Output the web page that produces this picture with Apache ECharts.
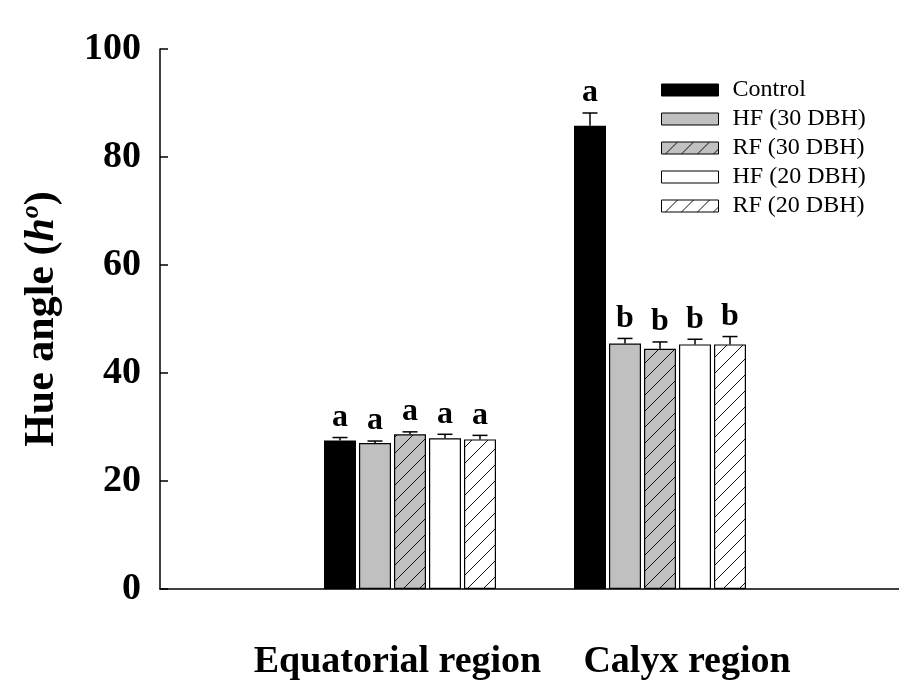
<!DOCTYPE html>
<html><head><meta charset="utf-8">
<script src="https://cdn.jsdelivr.net/npm/echarts@6/dist/echarts.min.js"></script>
<style>html,body{margin:0;padding:0;background:#fff}#c{width:899px;height:681px}</style>
</head><body><div id="c"></div>
<script>
// ---- data ----
const categories = ['Equatorial region', 'Calyx region'];
const categoryPos = [1, 2];
const seriesNames = ['Control', 'HF (30 DBH)', 'RF (30 DBH)', 'HF (20 DBH)', 'RF (20 DBH)'];
const control = [27.5, 85.8];
const hf30 = [27.05, 45.45];
const rf30 = [28.65, 44.5];
const hf20 = [27.9, 45.3];
const rf20 = [27.7, 45.3];
const controlErr = [0.55, 2.35];
const hf30Err = [0.35, 0.95];
const rf30Err = [0.45, 1.25];
const hf20Err = [0.75, 0.95];
const rf20Err = [0.75, 1.45];
const controlLetters = ['a', 'a'];
const hf30Letters = ['a', 'b'];
const rf30Letters = ['a', 'b'];
const hf20Letters = ['a', 'b'];
const rf20Letters = ['a', 'b'];
const yMin = 0, yMax = 100, yStep = 20;

const means = [control, hf30, rf30, hf20, rf20];
const errs = [controlErr, hf30Err, rf30Err, hf20Err, rf20Err];
const letters = [controlLetters, hf30Letters, rf30Letters, hf20Letters, rf20Letters];

// ---- styles ----
const SERIF = '"Liberation Serif", "Times New Roman", serif';
const BAR_W = 32, BAR_GAP = 3, CAP = 7.5;
const GRAY = '#c0c0c0';

function hatch(bg) {
  const s = 16;
  const cv = document.createElement('canvas');
  cv.width = s; cv.height = s;
  const ctx = cv.getContext('2d');
  ctx.fillStyle = bg; ctx.fillRect(0, 0, s, s);
  ctx.strokeStyle = '#111'; ctx.lineWidth = 1;
  ctx.beginPath();
  ctx.moveTo(-2, s + 2); ctx.lineTo(s + 2, -2);
  ctx.moveTo(s - 2, s + 2); ctx.lineTo(s + 2, s - 2);
  ctx.moveTo(-2, 2); ctx.lineTo(2, -2);
  ctx.stroke();
  return { image: cv, repeat: 'repeat' };
}
const fills = ['#000', GRAY, hatch(GRAY), '#fff', hatch('#fff')];

const barSeries = seriesNames.map((name, k) => ({
  type: 'bar', name,
  data: categoryPos.map((x, i) => [x, means[k][i]]),
  barWidth: BAR_W,
  barGap: (BAR_GAP / BAR_W * 100) + '%',
  itemStyle: { color: fills[k], borderColor: '#000', borderWidth: 1.2, borderRadius: 0 },
  z: 2
}));

const errSeries = seriesNames.map((name, k) => ({
  type: 'custom', name: name + ' SE', z: 5,
  data: categoryPos.map((x, i) => [x, means[k][i] + errs[k][i]]),
  renderItem(params, api) {
    const i = params.dataIndex;
    const m = means[k][i], e = errs[k][i];
    const pTop = api.coord([categoryPos[i], m + e]);
    const pMid = api.coord([categoryPos[i], m]);
    const x = pTop[0] + (k - 2) * (BAR_W + BAR_GAP);
    const ls = { stroke: '#000', lineWidth: 1.5 };
    return { type: 'group', children: [
      { type: 'line', shape: { x1: x, y1: pMid[1], x2: x, y2: pTop[1] }, style: ls },
      { type: 'line', shape: { x1: x - CAP, y1: pTop[1], x2: x + CAP, y2: pTop[1] }, style: ls },
      { type: 'text', style: { text: letters[k][i], x: x, y: pTop[1] - 4, align: 'center', verticalAlign: 'bottom',
        font: 'bold 32px ' + SERIF, fill: '#000' } }
    ]};
  }
}));

const chart = echarts.init(document.getElementById('c'), null, { renderer: 'canvas' });
chart.setOption({
  animation: false,
  backgroundColor: '#fff',
  grid: { left: 160, right: 0, top: 49, bottom: 91, containLabel: false },
  legend: {
    data: seriesNames, orient: 'vertical', left: 661, top: 78, padding: 0,
    itemWidth: 57, itemHeight: 12, itemGap: 5, icon: 'rect', selectedMode: false,
    itemStyle: { borderColor: '#000', borderWidth: 1 },
    textStyle: { fontFamily: SERIF, fontSize: 24, color: '#000', lineHeight: 24, padding: [0, 0, 0, 9] }
  },
  xAxis: {
    type: 'value', min: 0, max: 2.956,
    splitLine: { show: false }, axisTick: { show: false },
    axisLine: { show: true, onZero: false, lineStyle: { color: '#000', width: 1.5 } },
    axisLabel: {
      customValues: categoryPos, margin: 54,
      formatter: v => v === 1 ? '{l|' + categories[0] + '}' : (v === 2 ? '{r|' + categories[1] + '}' : ''),
      fontFamily: SERIF, fontWeight: 'bold', fontSize: 38, color: '#000',
      rich: {
        l: { fontFamily: SERIF, fontWeight: 'bold', fontSize: 38, color: '#000', padding: [0, 25, 0, 0] },
        r: { fontFamily: SERIF, fontWeight: 'bold', fontSize: 38, color: '#000', padding: [0, 0, 0, 54] }
      }
    }
  },
  yAxis: {
    type: 'value', min: yMin, max: yMax, interval: yStep,
    splitLine: { show: false },
    axisLine: { show: true, lineStyle: { color: '#000', width: 1.5 } },
    axisTick: { show: true, inside: true, length: 8, lineStyle: { color: '#000', width: 1.5 } },
    axisLabel: { fontFamily: SERIF, fontWeight: 'bold', fontSize: 38, color: '#000', margin: 19 },
    name: '{n|Hue angle (}{i|h}{s|o}{n|)}',
    nameLocation: 'middle', nameGap: 94, nameRotate: 90,
    nameTextStyle: {
      fontFamily: SERIF, fontWeight: 'bold', fontSize: 42, color: '#000',
      rich: {
        n: { fontFamily: SERIF, fontWeight: 'bold', fontSize: 42, color: '#000', lineHeight: 48 },
        i: { fontFamily: SERIF, fontWeight: 'bold', fontStyle: 'italic', fontSize: 42, color: '#000', lineHeight: 48 },
        s: { fontFamily: SERIF, fontWeight: 'bold', fontStyle: 'italic', fontSize: 26, color: '#000', lineHeight: 48, verticalAlign: 'top' }
      }
    }
  },
  series: barSeries.concat(errSeries)
});
</script></body></html>
